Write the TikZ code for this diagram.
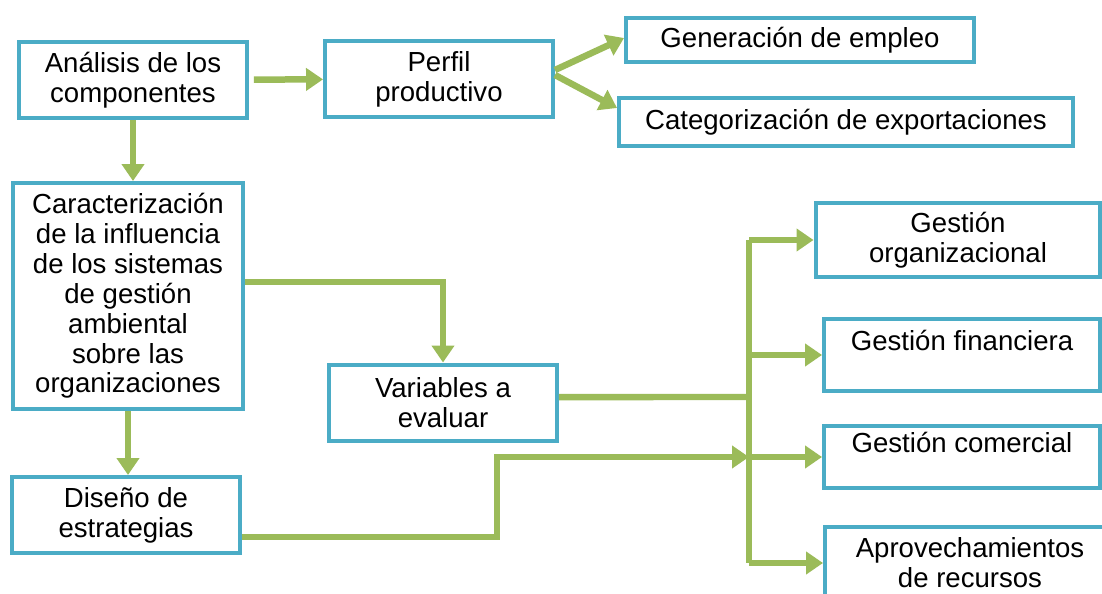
\documentclass[tikz,border=0pt]{standalone}
\usepackage{fontspec}
\setmainfont{Liberation Sans}
\usetikzlibrary{positioning,arrows.meta}

\definecolor{boxblue}{HTML}{4BACC6}
\definecolor{linkgreen}{HTML}{9BBB59}

\begin{document}
\begin{tikzpicture}[
        x=0.02cm, y=-0.02cm,
        block/.style={
                rectangle,
                draw=boxblue,
                fill=white,
                line width=0.08cm,
                align=center,
                inner sep=0pt,
                font=\fontsize{15.7pt}{17pt}\selectfont
            },
        link/.style = {draw=linkgreen, line width=0.13cm},
        flow/.style = {link, -{Triangle[length=0.34cm,width=0.44cm]}}
    ]
    \clip (0,0) rectangle (1102,594);

    \node[block,minimum width=4.56cm,minimum height=1.52cm] (comp) at (133,80) {Análisis de los\\componentes};
    \node[block,minimum width=4.56cm,minimum height=1.52cm] (perfil) at (439,79) {Perfil\\productivo};
    \node[block,minimum width=6.96cm,minimum height=0.88cm] (empleo) at (800,40) {Generación de empleo};
    \node[block,minimum width=9.08cm,minimum height=0.98cm] (export) at (846,122) {Categorización de exportaciones};
    \node[block,minimum width=4.6cm,minimum height=4.52cm] (carac) at (128,296) {Caracterización\\de la influencia\\de los sistemas\\de gestión\\ambiental\\sobre las\\organizaciones};
    \node[block,minimum width=4.56cm,minimum height=1.54cm] (vars) at (443,403) {Variables a\\evaluar};
    \node[block,minimum width=4.56cm,minimum height=1.52cm] (diseno) at (126,515) {Diseño de\\estrategias};

    \node[block,minimum width=5.7cm,minimum height=1.5cm] (org) at (958,240) {Gestión\\organizacional};
    \node[block,minimum width=5.52cm,minimum height=1.46cm] (fin) at (962,355) {Gestión financiera\\\mbox{}};
    \node[block,minimum width=5.52cm,minimum height=1.24cm] (com) at (962,457) {Gestión comercial\\\mbox{}};
    \node[block,minimum width=5.8cm,minimum height=1.46cm] (rec) at (970,563) {Aprovechamientos\\de recursos};

    \coordinate (bus) at (749,397);
    \coordinate (stepup) at (497,457);

    % upper branch
    \path[flow,shorten <=0.1cm] (comp) -- (perfil);
    \path[flow] ([yshift=0.18cm]perfil.east) -- ([yshift=0.04cm]empleo.west);
    \path[flow] ([yshift=0.08cm]perfil.east) -- ([yshift=0.28cm]export.west);

    % left column
    \path[flow] (comp.south) -- (comp.south |- carac.north);
    \path[flow] (carac.south) -- (carac.south |- diseno.north);
    \path[flow] ([yshift=0.28cm]carac.east) -| (vars.north);

    % bus to the right
    \path[link] ([yshift=0.12cm]vars.east) -- (bus);
    \path[link] (bus |- org.west) -- (bus |- rec.west);
    \path[flow] ([yshift=-0.44cm]diseno.east) -| (stepup) -- (bus |- com.west);
    \foreach \target in {org,fin,com,rec}
        \path[flow] (bus |- \target.west) -- (\target.west);
\end{tikzpicture}
\end{document}
